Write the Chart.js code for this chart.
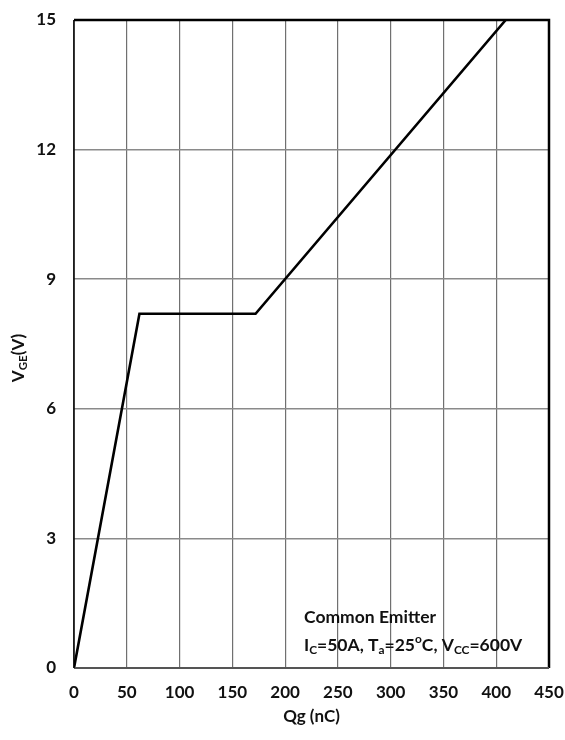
<!DOCTYPE html>
<html>
<head>
<meta charset="utf-8">
<script src="https://cdn.jsdelivr.net/npm/chart.js@4.4.1/dist/chart.umd.min.js"></script>
<style>
  html, body { margin: 0; padding: 0; background: #fff; }
  #wrap { width: 565px; height: 740px; position: relative; }
</style>
</head>
<body>
<div id="wrap"><canvas id="c" width="565" height="740"></canvas></div>
<script>
// Gate charge curve: V_GE versus Qg
const qgValues = [0, 62, 172, 409];        // nC
const vgeValues = [0, 8.2, 8.2, 15];       // V
const xTicks = [0, 50, 100, 150, 200, 250, 300, 350, 400, 450];
const yTicks = [0, 3, 6, 9, 12, 15];

const FONT = 'Lato, "Open Sans", sans-serif';

// draws a string made of [text, isSubscript, isSuperscript] runs
function drawRuns(ctx, runs, x, y, size) {
  let cx = x;
  for (const [t, sub, sup] of runs) {
    const s = (sub || sup) ? size * 0.68 : size;
    ctx.font = `bold ${s}px ${FONT}`;
    const dy = sub ? size * 0.28 : (sup ? -size * 0.35 : 0);
    ctx.fillText(t, cx, y + dy);
    cx += ctx.measureText(t).width;
  }
  return cx - x;
}
function runsWidth(ctx, runs, size) {
  let w = 0;
  for (const [t, sub, sup] of runs) {
    const s = (sub || sup) ? size * 0.68 : size;
    ctx.font = `bold ${s}px ${FONT}`;
    w += ctx.measureText(t).width;
  }
  return w;
}

const labelsPlugin = {
  id: 'labels',
  afterDraw(chart) {
    const ctx = chart.ctx;
    const a = chart.chartArea;
    ctx.save();
    // frame
    ctx.strokeStyle = '#000';
    ctx.lineWidth = 2.5;
    ctx.beginPath();
    ctx.moveTo(a.left, a.top);
    ctx.lineTo(a.right, a.top);
    ctx.lineTo(a.right, a.bottom);
    ctx.stroke();
    ctx.strokeStyle = '#555';
    ctx.lineWidth = 2;
    ctx.beginPath();
    ctx.moveTo(a.left, a.bottom);
    ctx.lineTo(a.right, a.bottom);
    ctx.stroke();
    ctx.strokeStyle = '#000';
    ctx.lineWidth = 1.5;
    ctx.beginPath();
    ctx.moveTo(a.left, a.top);
    ctx.lineTo(a.left, a.bottom);
    ctx.stroke();

    ctx.fillStyle = '#111';
    ctx.textBaseline = 'middle';
    ctx.textAlign = 'left';
    // annotation
    drawRuns(ctx, [['Common Emitter']], 304, 617, 17.5);
    drawRuns(ctx, [['I'], ['C', true], ['=50A, T'], ['a', true], ['=25'], ['o', false, true], ['C, V'], ['CC', true], ['=600V']], 304, 645, 17.5);

    // x axis title
    const xRuns = [['Qg (nC)']];
    const xw = runsWidth(ctx, xRuns, 17);
    drawRuns(ctx, xRuns, (a.left + a.right) / 2 - xw / 2, 717, 17);

    // y axis title, rotated
    const yRuns = [['V'], ['GE', true], ['(V)']];
    ctx.translate(19, 358);
    ctx.rotate(-Math.PI / 2);
    const w = runsWidth(ctx, yRuns, 17);
    drawRuns(ctx, yRuns, -w / 2, 0, 17);
    ctx.restore();
  }
};

new Chart(document.getElementById('c'), {
  type: 'scatter',
  data: {
    datasets: [{
      data: qgValues.map((q, i) => ({ x: q, y: vgeValues[i] })),
      showLine: true,
      borderColor: '#000',
      borderWidth: 2.6,
      pointRadius: 0,
      tension: 0
    }]
  },
  options: {
    responsive: false,
    animation: false,
    layout: { padding: { left: 0, right: 16, top: 20, bottom: 0 } },
    plugins: { legend: { display: false }, tooltip: { enabled: false } },
    scales: {
      x: {
        type: 'linear', min: 0, max: 450,
        afterBuildTicks: s => { s.ticks = xTicks.map(v => ({ value: v })); },
        afterFit: s => { s.height = 72; s.paddingLeft = 0; s.paddingRight = 0; },
        grid: { color: '#707070', lineWidth: 1.2, drawTicks: false },
        border: { display: false },
        ticks: { color: '#111', font: { family: FONT, weight: 'bold', size: 17 }, padding: 14, maxRotation: 0 }
      },
      y: {
        type: 'linear', min: 0, max: 15,
        afterBuildTicks: s => { s.ticks = yTicks.map(v => ({ value: v })); },
        afterFit: s => { s.width = 74; s.paddingTop = 0; s.paddingBottom = 0; },
        grid: { color: '#8a8a8a', lineWidth: 1.5, drawTicks: false },
        border: { display: false },
        ticks: { color: '#111', font: { family: FONT, weight: 'bold', size: 17 }, padding: 18 }
      }
    }
  },
  plugins: [labelsPlugin]
});
</script>
</body>
</html>
